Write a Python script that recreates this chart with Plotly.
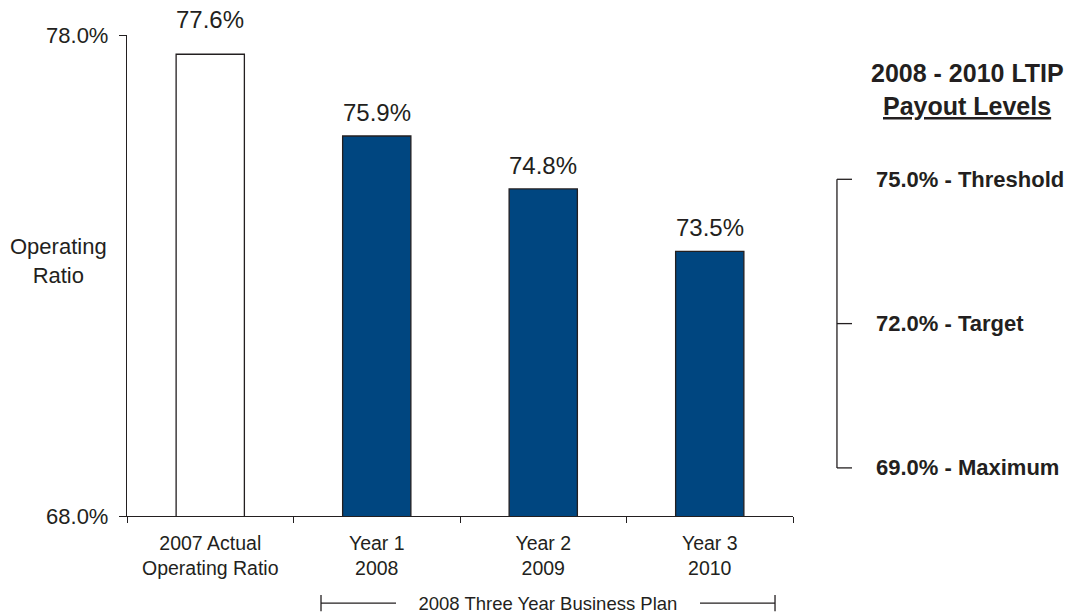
import plotly.graph_objects as go

# ---- data ----
categories = ["2007 Actual<br>Operating Ratio", "Year 1<br>2008", "Year 2<br>2009", "Year 3<br>2010"]
operating_ratio = [77.6, 75.9, 74.8, 73.5]
bar_colors = ["#FFFFFF", "#004680", "#004680", "#004680"]
y_ticks = [68.0, 78.0]
payout_levels = [75.0, 72.0, 69.0]
payout_names = ["Threshold", "Target", "Maximum"]

TXT = "#231F20"
FONT = "Liberation Sans, Arial, sans-serif"

fig = go.Figure()
fig.add_trace(go.Bar(
    x=categories, y=operating_ratio,
    marker=dict(color=bar_colors, line=dict(color=TXT, width=1.3)),
    width=0.41, showlegend=False, hoverinfo="skip",
))

annotations = []
# value labels above bars
label_shift = [19, 8, 8, 8]
for c, v, s in zip(categories, operating_ratio, label_shift):
    annotations.append(dict(x=c, y=v, xref="x", yref="y", text=f"{v:.1f}%",
                            showarrow=False, yanchor="bottom", yshift=s,
                            font=dict(size=24, color=TXT, family=FONT)))

# y-axis title
annotations.append(dict(x=-0.1036, y=0.53, xref="paper", yref="paper",
                        text="Operating<br>Ratio", showarrow=False,
                        xanchor="center", yanchor="middle",
                        font=dict(size=22, color=TXT, family=FONT)))

# right-side header
annotations.append(dict(x=1.2613, y=0.921, xref="paper", yref="paper",
                        text="<b>2008 - 2010 LTIP</b>", showarrow=False,
                        xanchor="center", yanchor="middle",
                        font=dict(size=25, color=TXT, family=FONT)))
annotations.append(dict(x=1.2613, y=0.852, xref="paper", yref="paper",
                        text="<b><u>Payout Levels</u></b>", showarrow=False,
                        xanchor="center", yanchor="middle",
                        font=dict(size=25, color=TXT, family=FONT)))

shapes = []
bx, tx_end, lx = 1.066, 1.0886, 1.1216
shapes.append(dict(type="line", xref="paper", yref="y", x0=bx, x1=bx,
                   y0=payout_levels[0], y1=payout_levels[-1],
                   line=dict(color=TXT, width=1.3)))
for lvl, name in zip(payout_levels, payout_names):
    shapes.append(dict(type="line", xref="paper", yref="y", x0=bx, x1=tx_end,
                       y0=lvl, y1=lvl, line=dict(color=TXT, width=1.3)))
    annotations.append(dict(x=lx, y=lvl, xref="paper", yref="y",
                            text=f"<b>{lvl:.1f}% - {name}</b>", showarrow=False,
                            xanchor="left", yanchor="middle",
                            font=dict(size=22, color=TXT, family=FONT)))

# bottom bracket: 2008 Three Year Business Plan
px0, px1, py = 0.2913, 0.973, -0.181
shapes.append(dict(type="line", xref="paper", yref="paper", x0=px0, x1=px1, y0=py, y1=py,
                   line=dict(color=TXT, width=1.3)))
for px in (px0, px1):
    shapes.append(dict(type="line", xref="paper", yref="paper", x0=px, x1=px,
                       y0=py - 0.017, y1=py + 0.017, line=dict(color=TXT, width=1.3)))
annotations.append(dict(x=(px0 + px1) / 2, y=py, xref="paper", yref="paper",
                        text="\u2003" + "2008 Three Year Business Plan" + "\u2003",
                        showarrow=False,
                        xanchor="center", yanchor="middle", bgcolor="white",
                        borderpad=4, borderwidth=0,
                        font=dict(size=18.5, color=TXT, family=FONT)))

fig.update_layout(
    width=1077, height=614,
    margin=dict(l=127, r=284, t=35, b=98),
    paper_bgcolor="white", plot_bgcolor="white",
    bargap=0.5,
    xaxis=dict(type="category", range=[-0.5, 3.5], tickson="boundaries",
               ticks="outside", ticklen=6, tickcolor=TXT, tickwidth=1.3,
               showline=True, linecolor=TXT, linewidth=1.3, showgrid=False,
               ticklabelstandoff=9,
               tickfont=dict(size=19.5, color=TXT, family=FONT), fixedrange=True),
    yaxis=dict(range=[68, 78], tickvals=y_ticks,
               ticktext=[f"{t:.1f}%" for t in y_ticks],
               ticks="outside", ticklen=7, tickcolor=TXT, tickwidth=1.3,
               showline=True, linecolor=TXT, linewidth=1.3, showgrid=False,
               zeroline=False, ticklabelstandoff=6,
               tickfont=dict(size=22, color=TXT, family=FONT), fixedrange=True),
    annotations=annotations, shapes=shapes,
    font=dict(family=FONT, color=TXT),
)

fig.write_html("out.html")
